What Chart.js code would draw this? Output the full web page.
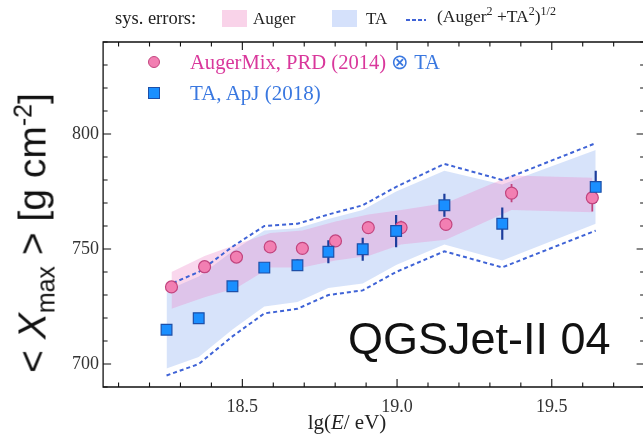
<!DOCTYPE html>
<html><head><meta charset="utf-8">
<script src="https://cdn.jsdelivr.net/npm/chart.js@4.4.0/dist/chart.umd.min.js"></script>
<style>
html,body{margin:0;padding:0;background:#fff;overflow:hidden;width:643px;height:438px;}
#wrap{position:relative;width:643px;height:438px;overflow:hidden;}
#c{position:absolute;left:0;top:0;}
.t{position:absolute;white-space:nowrap;font-family:"Liberation Serif","Times New Roman",serif;line-height:1;}
sup,sub{line-height:0;}
</style></head><body>
<div id="wrap">
<canvas id="c" width="660" height="438" style="width:660px;height:438px"></canvas>

<div class="t" style="left:115px;top:9px;font-size:18.5px;color:#222;">sys. errors:</div>
<div style="position:absolute;left:222px;top:10px;width:25px;height:17px;background:#f9d3e9;"></div>
<div class="t" style="left:253px;top:10px;font-size:17px;color:#222;">Auger</div>
<div style="position:absolute;left:332px;top:10px;width:25px;height:17px;background:#d5e1fb;"></div>
<div class="t" style="left:366px;top:10px;font-size:17px;color:#222;">TA</div>
<div style="position:absolute;left:406px;top:19px;width:20px;height:2px;background:repeating-linear-gradient(90deg,#3f63d6 0 4px,transparent 4px 6px);"></div>
<div class="t" style="left:437px;top:8px;font-size:17.5px;color:#222;">(Auger<sup style="font-size:12px">2</sup> +TA<sup style="font-size:12px">2</sup>)<sup style="font-size:12px">1/2</sup></div>

<div style="position:absolute;left:148px;top:56px;width:10px;height:10px;border-radius:50%;background:#f27fb2;border:1px solid #c2457f;"></div>
<div class="t" style="left:190px;top:52px;font-size:20.6px;color:#d9379b;">AugerMix, PRD (2014) <span style="color:#3a78e0">⊗ TA</span></div>
<div style="position:absolute;left:148px;top:87px;width:10px;height:10px;background:#1a8fff;border:1px solid #1d4fa8;"></div>
<div class="t" style="left:190px;top:83px;font-size:21px;color:#3a78e0;">TA, ApJ (2018)</div>

<div class="t" style="left:348px;top:316px;font-size:45px;color:#111;font-family:'Liberation Sans',Arial,sans-serif;">QGSJet-II 04</div>

<div class="t" style="left:32px;top:233px;transform:translate(-50%,-50%) rotate(-90deg);font-size:39px;color:#111;font-family:'Liberation Sans',Arial,sans-serif;">&lt; <i>X</i><sub style="font-size:25px">max</sub> &gt; [g cm<sup style="font-size:25px">-2</sup>]</div>

<div class="t" style="left:347px;top:422px;transform:translate(-50%,-50%);font-size:21px;color:#222;">lg(<i>E</i>/ eV)</div>
</div>

<script>
// ---- data ----
const taX       = [18.255,18.359,18.468,18.571,18.678,18.778,18.889,18.997,19.153,19.340,19.642];
const taXmax    = [714.9,719.9,733.8,741.9,742.9,748.8,749.9,757.8,769.0,761.0,777.0];
const taErr     = [1,1,1,2,2.5,5,5,7,5,7,7];
const augerX    = [18.271,18.378,18.481,18.590,18.694,18.801,18.907,19.013,19.158,19.370,19.631];
const augerXmax = [733.5,742.3,746.5,750.9,750.3,753.5,759.3,759.3,760.7,774.3,772.3];
const augerErrUp   = [1.5,1.5,1.5,1.5,2,2.5,2.5,3,2,4,2];
const augerErrDown = [1.5,1.5,1.5,1.5,2,2.5,2.5,3,2,4,6];
const augerSysUp   = [740,747,752,757,758,762,765,767,770,782,781];
const augerSysDown = [724,729,733,742,742,745,747,752,754,767,766];
const taSysUp      = [732,738,749,758,759,763,767,775,784,778,793];
const taSysDown    = [698,703,715,725,727,733,735,743,752,745,761];
const combUp       = [734,740,751,760,761,765,769,777,787,780,796];
const combDown     = [695,700,712,722,724,730,732,740,749,742,758];
const xTickLabels = ['18.5','19.0','19.5'];
const yTickLabels = ['700','750','800'];

const pts = (xs, ys) => xs.map((x,i)=>({x, y: ys[i]}));
function errSeg(xs, ys, up, dn){
  const d=[];
  xs.forEach((x,i)=>{ d.push({x, y: ys[i]+up[i]}); d.push({x, y: ys[i]-dn[i]}); d.push({x, y: null}); });
  return d;
}
const lineBase = {type:'line', pointRadius:0, tension:0, spanGaps:false};

const ticksPlugin = {
  id:'boxTicks',
  afterDraw(chart){
    const ctx = chart.ctx, a = chart.chartArea;
    const xs = chart.scales.x, ys = chart.scales.y;
    ctx.save();
    ctx.strokeStyle = '#111'; ctx.lineWidth = 1.3;
    ctx.beginPath();
    ctx.moveTo(a.left, a.top); ctx.lineTo(a.right, a.top);
    ctx.lineTo(a.right, a.bottom); ctx.lineTo(a.left, a.bottom); ctx.closePath();
    ctx.stroke();
    ctx.lineWidth = 1.1;
    ctx.beginPath();
    xs.ticks.forEach((t,i)=>{
      const p = xs.getPixelForTick(i);
      const major = xTickLabels.includes((Math.round(t.value*10)/10).toFixed(1));
      const L = major ? 8 : 4.5;
      ctx.moveTo(p, a.bottom); ctx.lineTo(p, a.bottom - L);
      ctx.moveTo(p, a.top); ctx.lineTo(p, a.top + L);
    });
    ys.ticks.forEach((t,i)=>{
      const p = ys.getPixelForTick(i);
      const major = yTickLabels.includes(String(Math.round(t.value)));
      const L = major ? 8 : 4.5;
      ctx.moveTo(a.left, p); ctx.lineTo(a.left + L, p);
      ctx.moveTo(a.right, p); ctx.lineTo(a.right - L, p);
    });
    ctx.stroke();
    ctx.restore();
  }
};

new Chart(document.getElementById('c'), {
  type:'scatter',
  data:{ datasets:[
    {label:'TA', type:'scatter', data: pts(taX, taXmax), pointStyle:'rect', pointRadius:7.6,
     backgroundColor:'#1a8fff', borderColor:'#1d4fa8', borderWidth:1.2, order:0},
    {label:'Auger', type:'scatter', data: pts(augerX, augerXmax), pointStyle:'circle', pointRadius:6,
     backgroundColor:'#f27fb2', borderColor:'#c2457f', borderWidth:1.2, order:1},
    {...lineBase, label:'taErr', data: errSeg(taX, taXmax, taErr, taErr), borderColor:'#1c3d9c', borderWidth:2.2, fill:false, order:2},
    {...lineBase, label:'augerErr', data: errSeg(augerX, augerXmax, augerErrUp, augerErrDown), borderColor:'#c0457d', borderWidth:1.8, fill:false, order:3},
    {...lineBase, label:'combUp', data: pts(taX, combUp), borderColor:'#3f63d6', borderWidth:2, borderDash:[4,3], fill:false, order:4},
    {...lineBase, label:'combDown', data: pts(taX, combDown), borderColor:'#3f63d6', borderWidth:2, borderDash:[4,3], fill:false, order:5},
    {...lineBase, label:'augerSysUp', data: pts(augerX, augerSysUp), borderWidth:0, borderColor:'rgba(0,0,0,0)', fill:false, order:6},
    {...lineBase, label:'augerSysDown', data: pts(augerX, augerSysDown), borderWidth:0, borderColor:'rgba(0,0,0,0)', fill:'-1', backgroundColor:'rgba(235,130,200,0.32)', order:7},
    {...lineBase, label:'taSysUp', data: pts(taX, taSysUp), borderWidth:0, borderColor:'rgba(0,0,0,0)', fill:false, order:8},
    {...lineBase, label:'taSysDown', data: pts(taX, taSysDown), borderWidth:0, borderColor:'rgba(0,0,0,0)', fill:'-1', backgroundColor:'rgba(170,195,245,0.47)', order:9}
  ]},
  options:{
    responsive:false, animation:false, devicePixelRatio:1,
    layout:{padding:{left:0, top:42, right:15.4, bottom:0}},
    plugins:{legend:{display:false}, tooltip:{enabled:false}},
    scales:{
      x:{type:'linear', min:18.05, max:19.8,
         grid:{display:false, drawTicks:false}, border:{display:false},
         afterFit(s){ s.height = 51; },
         ticks:{stepSize:0.1, includeBounds:false, autoSkip:false, maxRotation:0, padding:9,
                color:'#333', font:{family:'"Liberation Serif","Times New Roman",serif', size:18},
                callback(v){ const s=(Math.round(v*10)/10).toFixed(1); return xTickLabels.includes(s)? s : ''; }}},
      y:{type:'linear', min:690, max:840,
         grid:{display:false, drawTicks:false}, border:{display:false},
         afterFit(s){ s.width = 103.1; },
         ticks:{stepSize:10, includeBounds:false, autoSkip:false, padding:4,
                color:'#333', font:{family:'"Liberation Serif","Times New Roman",serif', size:18},
                callback(v){ const s=String(Math.round(v)); return yTickLabels.includes(s)? s : ''; }}}
    }
  },
  plugins:[ticksPlugin]
});
</script>
</body></html>
